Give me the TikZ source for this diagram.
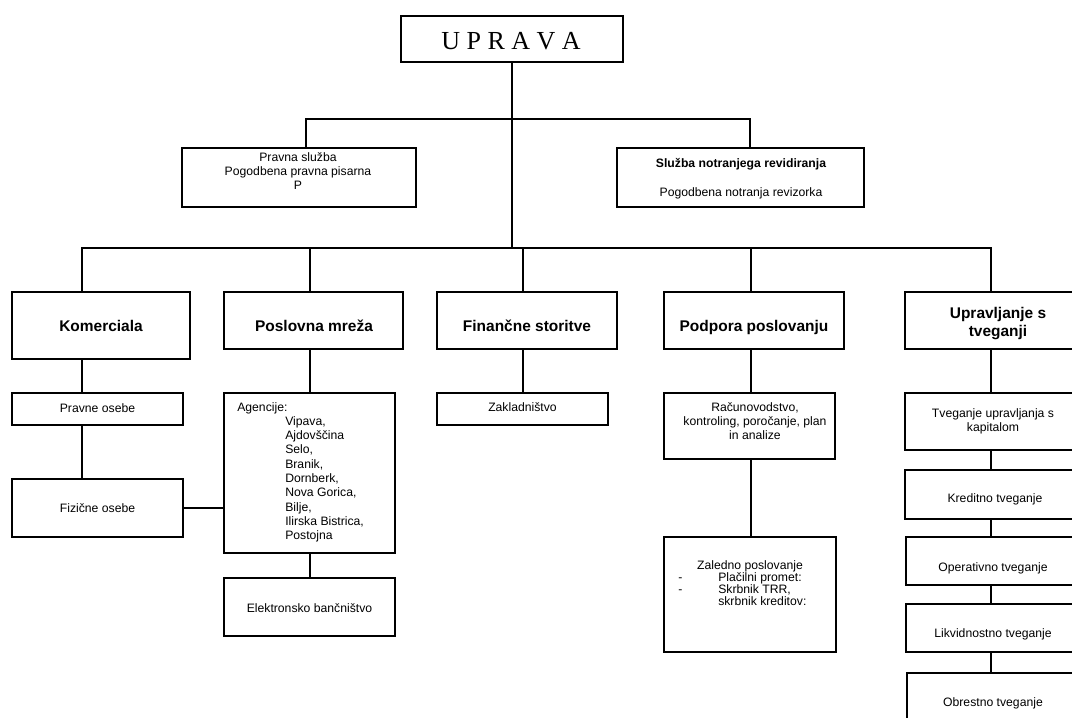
\documentclass[tikz,border=0pt]{standalone}
\usepackage{fontspec}
\setmainfont{Liberation Sans}
\newfontfamily\tnr{Liberation Serif}
\usetikzlibrary{fit}
\tikzset{
  box/.style={draw, line width=1.2pt, inner sep=0pt},
  ln/.style={line width=1.2pt},
  sm/.style={font=\fontsize{9.15}{10.7}\selectfont, inner sep=0pt, anchor=base},
  sml/.style={sm, anchor=base west},
  smb/.style={font=\fontsize{9.15}{10.7}\selectfont\bfseries, inner sep=0pt, anchor=base},
  bg/.style={font=\fontsize{11.6}{13.5}\selectfont\bfseries, inner sep=0pt, anchor=base},
  ttl/.style={font=\tnr\fontsize{19.5}{22}\selectfont, inner sep=0pt, anchor=base},
}
\begin{document}
\begin{tikzpicture}[x=0.75pt,y=-0.75pt]
\useasboundingbox (0,0) rectangle (1072,718);
\clip (0,0) rectangle (1072,718);
% boxes
\node[box, fit={(401,16) (623,62)}] (upr) {};
\node[box, fit={(182,148) (416,207)}] (pravna) {};
\node[box, fit={(617,148) (864,207)}] (sluzba) {};
\node[box, fit={(12,292) (190,359)}] (kom) {};
\node[box, fit={(224,292) (403,349)}] (pos) {};
\node[box, fit={(437,292) (617,349)}] (fin) {};
\node[box, fit={(664,292) (844,349)}] (pod) {};
\node[box, fit={(905,292) (1088,349)}] (tve) {};
\node[box, fit={(12,393) (183,425)}] (prav) {};
\node[box, fit={(12,479) (183,537)}] (fiz) {};
\node[box, fit={(224,393) (395,553)}] (ag) {};
\node[box, fit={(224,578) (395,636)}] (ele) {};
\node[box, fit={(437,393) (608,425)}] (zak) {};
\node[box, fit={(664,393) (835,459)}] (rac) {};
\node[box, fit={(664,537) (836,652)}] (zal) {};
\node[box, fit={(905,393) (1088,450)}] (kap) {};
\node[box, fit={(905,470) (1088,519)}] (kre) {};
\node[box, fit={(906,537) (1088,585)}] (ope) {};
\node[box, fit={(906,604) (1088,652)}] (lik) {};
\node[box, fit={(907,673) (1088,740)}] (obr) {};
% texts
\node[ttl] (tupr) at (511,49) {U P R A V A};
\node[sm] (tpr1) at (298,161) {Pravna služba};
\node[sm] (tpr2) at (298,175.3) {Pogodbena pravna pisarna};
\node[sm] (tpr3) at (298,189.6) {P};
\node[smb] (tsl1) at (741,167) {Služba notranjega revidiranja};
\node[sm] (tsl2) at (741,196) {Pogodbena notranja revizorka};
\node[bg] (tkom) at (101,331.5) {Komerciala};
\node[bg] (tpos) at (314,331.5) {Poslovna mreža};
\node[bg] (tfin) at (527,331.5) {Finančne storitve};
\node[bg] (tpod) at (754,331.5) {Podpora poslovanju};
\node[bg] (ttv1) at (998,318) {Upravljanje s};
\node[bg] (ttv2) at (998,336) {tveganji};
\node[sm] (tprav) at (97.5,412.5) {Pravne osebe};
\node[sm] (tfiz) at (97.5,512.5) {Fizične osebe};
\node[sml] (tag0) at (237,411) {Agencije:};
\node[sml] (tag1) at (285,425.3) {Vipava,};
\node[sml] (tag2) at (285,439.6) {Ajdovščina};
\node[sml] (tag3) at (285,453.9) {Selo,};
\node[sml] (tag4) at (285,468.2) {Branik,};
\node[sml] (tag5) at (285,482.5) {Dornberk,};
\node[sml] (tag6) at (285,496.8) {Nova Gorica,};
\node[sml] (tag7) at (285,511.1) {Bilje,};
\node[sml] (tag8) at (285,525.4) {Ilirska Bistrica,};
\node[sml] (tag9) at (285,539.7) {Postojna};
\node[sm] (tele) at (309.5,612) {Elektronsko bančništvo};
\node[sm] (tzak) at (522.5,411.5) {Zakladništvo};
\node[sm] (trac1) at (755,411) {Računovodstvo,};
\node[sm] (trac2) at (755,425.3) {kontroling, poročanje, plan};
\node[sm] (trac3) at (755,439.6) {in analize};
\node[sm] (tzal0) at (750,569.5) {Zaledno poslovanje};
\node[sml] (tzald1) at (678,581.5) {-};
\node[sml] (tzal1) at (718,581.5) {Plačilni promet:};
\node[sml] (tzald2) at (678,593.5) {-};
\node[sml] (tzal2) at (718,593.5) {Skrbnik TRR,};
\node[sml] (tzal3) at (718,605.5) {skrbnik kreditov:};
\node[sm] (tkap1) at (993,417) {Tveganje upravljanja s};
\node[sm] (tkap2) at (993,431.3) {kapitalom};
\node[sm] (tkre) at (995,502) {Kreditno tveganje};
\node[sm] (tope) at (993,571) {Operativno tveganje};
\node[sm] (tlik) at (993,637) {Likvidnostno tveganje};
\node[sm] (tobr) at (993,706) {Obrestno tveganje};
% bus coordinates
\coordinate (t1) at (306,119);
\coordinate (t2) at (750,119);
\coordinate (bl) at (82,248);
\coordinate (br) at (991,248);
\coordinate (xpos) at (310,248);
\coordinate (xfin) at (523,248);
\coordinate (xpod) at (751,248);
% connectors
\draw[ln] (upr.south) -- (upr.south |- bl);
\draw[ln] (pravna.north -| t1) -- (t1) -- (t2) -- (sluzba.north -| t2);
\draw[ln] (kom.north -| bl) -- (bl) -- (br) -- (tve.north -| br);
\draw[ln] (xpos) -- (pos.north -| xpos);
\draw[ln] (xfin) -- (fin.north -| xfin);
\draw[ln] (xpod) -- (pod.north -| xpod);
\draw[ln] (kom.south -| bl) -- (prav.north -| bl);
\draw[ln] (prav.south -| bl) -- (fiz.north -| bl);
\draw[ln] (fiz.east) -- (ag.west |- fiz.east);
\draw[ln] (pos.south -| xpos) -- (ag.north -| xpos);
\draw[ln] (ag.south -| xpos) -- (ele.north -| xpos);
\draw[ln] (fin.south -| xfin) -- (zak.north -| xfin);
\draw[ln] (pod.south -| xpod) -- (rac.north -| xpod);
\draw[ln] (rac.south -| xpod) -- (zal.north -| xpod);
\draw[ln] (tve.south -| br) -- (kap.north -| br);
\draw[ln] (kap.south -| br) -- (kre.north -| br);
\draw[ln] (kre.south -| br) -- (ope.north -| br);
\draw[ln] (ope.south -| br) -- (lik.north -| br);
\draw[ln] (lik.south -| br) -- (obr.north -| br);
\end{tikzpicture}
\end{document}
